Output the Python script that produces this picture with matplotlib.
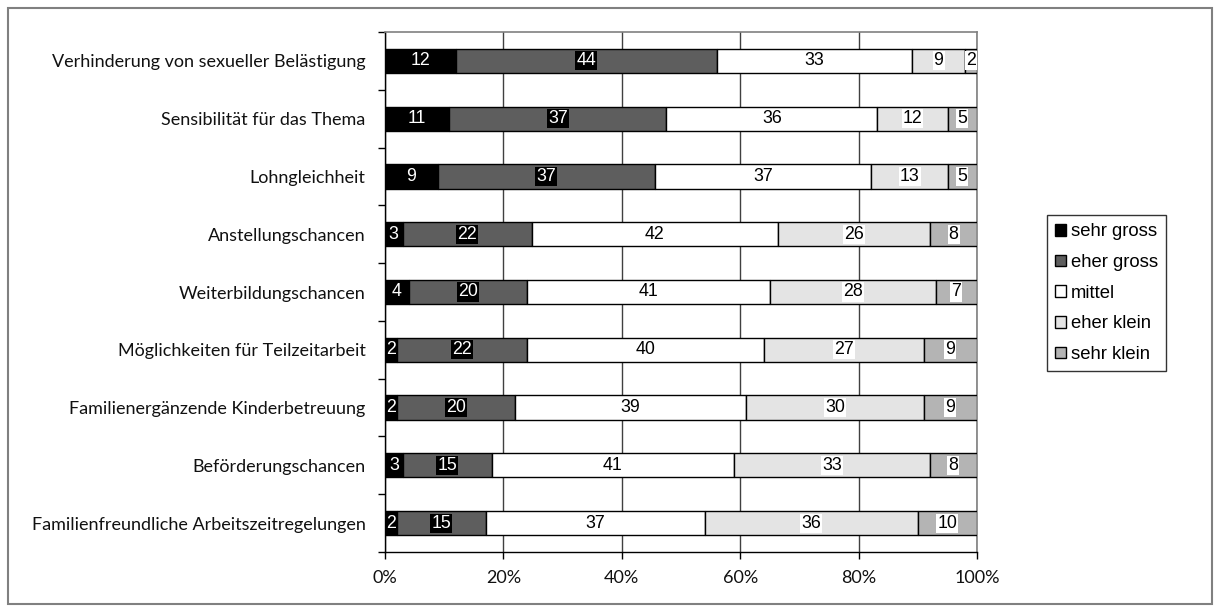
import matplotlib
matplotlib.use("Agg")
import matplotlib.pyplot as plt
import numpy as np
from matplotlib.patches import Rectangle

categories = [
    "Verhinderung von sexueller Belästigung",
    "Sensibilität für das Thema",
    "Lohngleichheit",
    "Anstellungschancen",
    "Weiterbildungschancen",
    "Möglichkeiten für Teilzeitarbeit",
    "Familienergänzende Kinderbetreuung",
    "Beförderungschancen",
    "Familienfreundliche Arbeitszeitregelungen",
]
series_names = ["sehr gross", "eher gross", "mittel", "eher klein", "sehr klein"]
sehr_gross = [12, 11, 9, 3, 4, 2, 2, 3, 2]
eher_gross = [44, 37, 37, 22, 20, 22, 20, 15, 15]
mittel     = [33, 36, 37, 42, 41, 40, 39, 41, 37]
eher_klein = [9, 12, 13, 26, 28, 27, 30, 33, 36]
sehr_klein = [2, 5, 5, 8, 7, 9, 9, 8, 10]
xticks = [0, 20, 40, 60, 80, 100]
xtick_labels = ["0%", "20%", "40%", "60%", "80%", "100%"]

colors = ["#000000", "#5e5e5e", "#ffffff", "#e4e4e4", "#b4b4b4"]
label_bg = ["#000000", "#000000", "#ffffff", "#ffffff", "#ffffff"]
label_fg = ["#ffffff", "#ffffff", "#000000", "#000000", "#000000"]

data = np.array([sehr_gross, eher_gross, mittel, eher_klein, sehr_klein], dtype=float)
totals = data.sum(axis=0)
shares = data / totals * 100

fig = plt.figure(figsize=(12.2, 6.12), dpi=100)
ax = fig.add_axes([385/1220, 1-552/612, 592/1220, 520/612])

y = np.arange(len(categories))
left = np.zeros(len(categories))
for i, name in enumerate(series_names):
    ax.barh(y, shares[i], left=left, height=0.42, color=colors[i],
            edgecolor="#000000", linewidth=1.0, label=name, zorder=3)
    for j in range(len(categories)):
        cx = left[j] + shares[i][j] / 2
        ax.text(cx, y[j], str(int(data[i][j])), ha="center", va="center",
                fontsize=12.8, family="Liberation Sans", color=label_fg[i], zorder=5,
                bbox=dict(boxstyle="square,pad=0.06", fc=label_bg[i], ec="none"))
    left += shares[i]

ax.set_xlim(0, 100)
ax.set_ylim(len(categories) - 0.5, -0.5)
ax.set_xticks(xticks)
ax.set_xticklabels(xtick_labels, family="Lato", fontsize=13.0, color="#111111")
ax.set_yticks(y)
ax.set_yticklabels(categories, family="Lato", fontsize=13.0, color="#111111")
ax.tick_params(axis="y", which="major", length=0, pad=14)
ax.set_yticks(np.arange(-0.5, len(categories), 1.0), minor=True)
ax.tick_params(axis="y", which="minor", length=5, direction="out", width=1)
ax.tick_params(axis="x", which="major", length=5, direction="out", width=1, pad=8)
ax.xaxis.grid(True, color="#404040", linewidth=1.0, zorder=0)
ax.set_axisbelow(True)
for s in ["top", "right"]:
    ax.spines[s].set_color("#808080")
    ax.spines[s].set_linewidth(1.2)
for s in ["left", "bottom"]:
    ax.spines[s].set_color("#000000")
    ax.spines[s].set_linewidth(1.0)

leg = fig.legend(loc="upper left", bbox_to_anchor=(1047/1220, 1-215/612),
                 prop={"family": "Liberation Sans", "size": 13.3},
                 frameon=True, fancybox=False, edgecolor="#000000",
                 handlelength=0.6, handleheight=0.6, handletextpad=0.25,
                 labelspacing=0.74, borderpad=0.45, borderaxespad=0)
leg.get_frame().set_linewidth(1.0)

fig.patches.append(Rectangle((8/1220, 8/612), 1204/1220, 596/612,
                             transform=fig.transFigure, fill=False,
                             edgecolor="#808080", linewidth=1.5))

fig.savefig("out.png", dpi=100)
